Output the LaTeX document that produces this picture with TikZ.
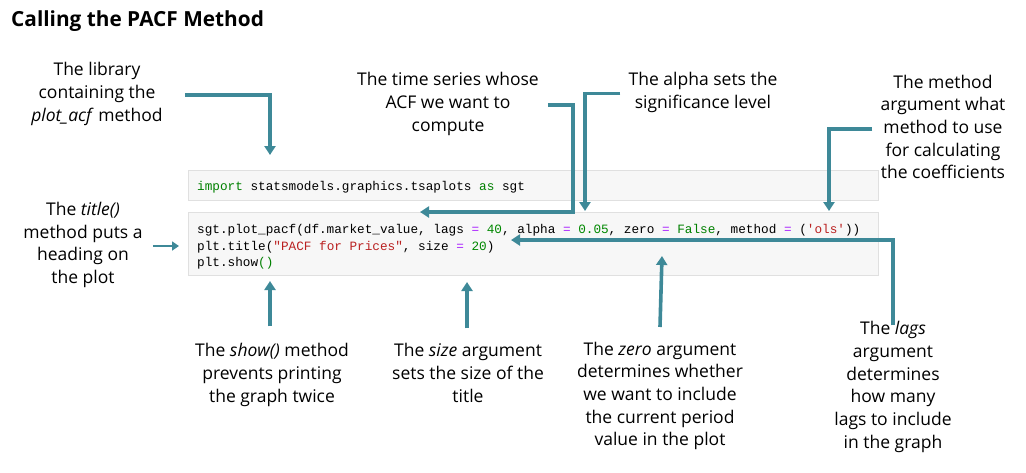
\documentclass[tikz,border=0pt]{standalone}
\usepackage{fontspec}
\setmainfont{Open Sans}
\setmonofont{Liberation Mono}
\usepackage{xcolor}
\usetikzlibrary{arrows.meta,positioning,calc}
\definecolor{ctl}{RGB}{62,137,152}
\definecolor{cellbg}{RGB}{247,247,247}
\definecolor{cellln}{RGB}{224,224,224}
\definecolor{kw}{RGB}{0,128,0}
\definecolor{num}{RGB}{0,136,0}
\definecolor{str}{RGB}{186,33,33}
\definecolor{op}{RGB}{170,34,255}
\newcommand{\kwd}[1]{\textcolor{kw}{#1}}
\newcommand{\nmb}[1]{\textcolor{num}{#1}}
\newcommand{\strg}[1]{\textcolor{str}{#1}}
\newcommand{\eq}{\textcolor{op}{=}}

\begin{document}
\begin{tikzpicture}[x=1pt,y=-1pt,
  note/.style={align=center,inner sep=2pt,font=\fontsize{17.5}{22.7}\selectfont},
  cell/.style={draw=cellln,fill=cellbg,line width=1pt,minimum width=690pt,inner sep=0pt},
  codeline/.style={anchor=base west,inner sep=0pt,font=\fontsize{12.7}{16.5}\selectfont\ttfamily},
  callout/.style={draw=ctl,line width=3.6pt,-{Triangle[length=9pt,width=11pt]}}
]
\useasboundingbox (0,0) rectangle (1026,472);
\node[anchor=west,inner sep=0pt,font=\fontsize{20.8}{24}\selectfont\bfseries] (heading) at (11,21)
  {Calling the PACF Method};
% code cells
\node[cell,minimum height=30pt] (cellA) at (533,185) {};
\node[cell,minimum height=63pt] (cellB) at (533,243.5) {};
\node[codeline] (lineA) at (197,190)
  {\kwd{import} statsmodels.graphics.tsaplots \kwd{as} sgt};
\node[codeline] (lineB) at (197,233)
  {sgt.plot\_pacf(df.market\_value, lags \eq{} \nmb{40}, alpha \eq{} \nmb{0.05}, zero \eq{} \kwd{False}, method \eq{} (\strg{'ols'}))};
\node[codeline] (lineC) at (197,250)
  {plt.title(\strg{"PACF for Prices"}, size \eq{} \nmb{20})};
\node[codeline] (lineD) at (197,266)
  {plt.show\textcolor{kw}{()}};
% notes
\node[note] (lib) at (97,94) {The library\\containing the\\\textit{plot\_acf} method};
\node[note] (series) at (448,104) {The time series whose\\ACF we want to\\compute};
\node[note] (alpha) at (703,92.5) {The alpha sets the\\significance level};
\node[note] (meth) at (943,127) {The method\\argument what\\method to use\\for calculating\\the coefficients};
\node[note] (ttl) at (83,245) {The \textit{title()}\\method puts a\\heading on\\the plot};
\node[note] (show) at (272,375) {The \textit{show()} method\\prevents printing\\the graph twice};
\node[note] (size) at (468,373) {The \textit{size} argument\\sets the size of the\\title};
\node[note] (zero) at (660,396) {The \textit{zero} argument\\determines whether\\we want to include\\the current period\\value in the plot};
\node[note] (lags) at (893,387) {The \textit{lags}\\argument\\determines\\how many\\lags to include\\in the graph};
% arrow targets
\coordinate (libTip) at (270,155);
\coordinate (seriesBend) at (573,212);
\coordinate (seriesTip) at (420,212);
\coordinate (alphaTip) at (585,211);
\coordinate (methTip) at (829,211);
\coordinate (lagsTip) at (511,240);
\coordinate (zeroTip) at (662,256);
\coordinate (showTip) at (270,281);
\coordinate (sizeTip) at (467,282);
\coordinate (ttlTip) at (179,246);
% callouts
\draw[callout] ([xshift=20pt,yshift=-1pt]lib.east) -| (libTip);
\draw[callout] ([xshift=7pt,yshift=-1pt]series.east) -| (seriesBend) -- (seriesTip);
\draw[callout] ([xshift=-6pt,yshift=-1pt]alpha.west) -| (alphaTip);
\draw[callout] ([xshift=-6pt,yshift=-2pt]meth.west) -| (methTip);
\draw[callout] ([yshift=-6pt]lags.north) |- (lagsTip);
\draw[callout] (zero.north |- 0,327) -- (zeroTip);
\draw[callout] (show.north -| showTip) ++(0,-15) -- (showTip);
\draw[callout] (size.north -| sizeTip) ++(0,-13) -- (sizeTip);
\draw[callout,line width=2.6pt,-{Triangle[length=7pt,width=9pt]}] ([xshift=8pt]ttl.east |- ttlTip) -- (ttlTip);
\end{tikzpicture}
\end{document}
